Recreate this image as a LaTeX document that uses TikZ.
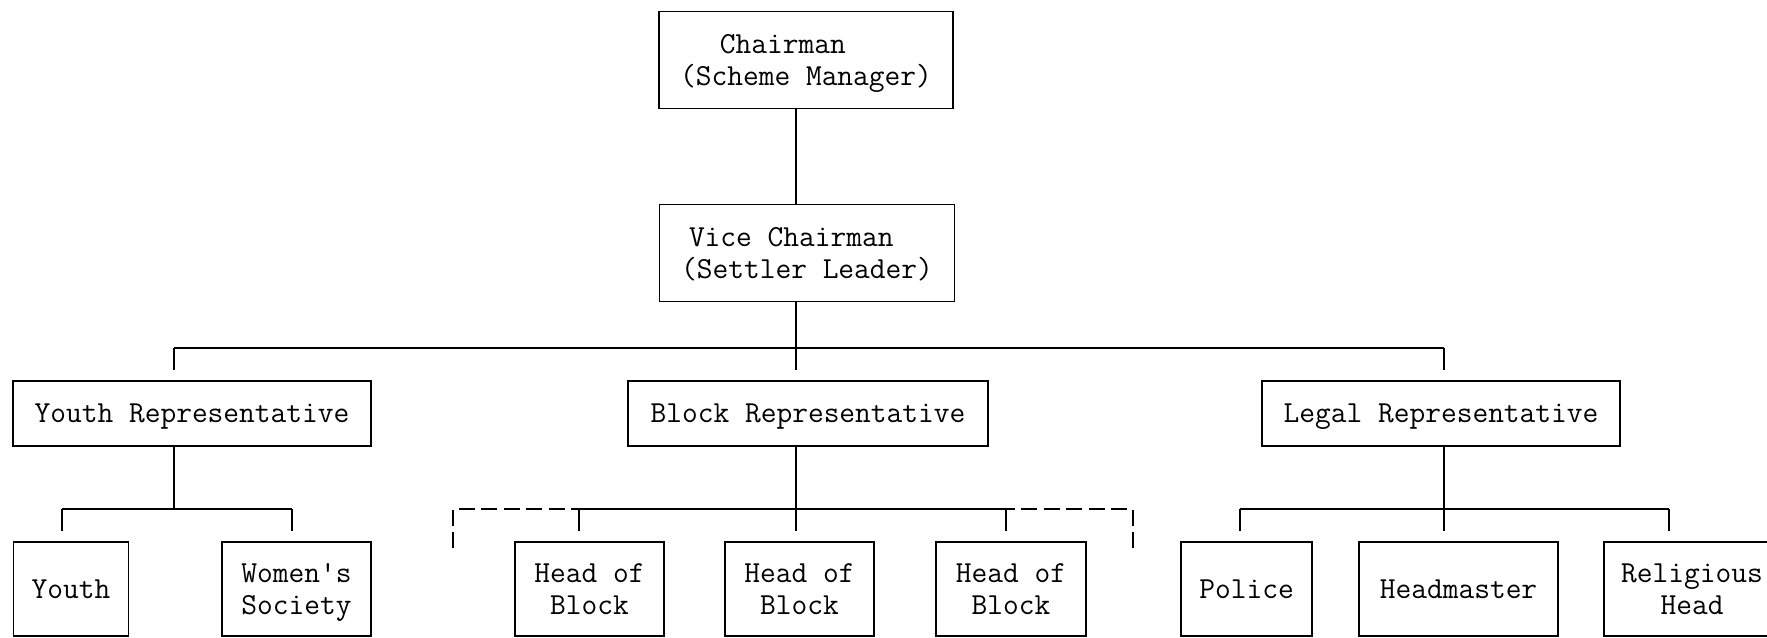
\documentclass[tikz,border=0pt]{standalone}
\usepackage{fontspec}
\usepackage{tikz}
\usetikzlibrary{
    calc,
    positioning
}
\tikzset{
    unit/.style={draw, line width=1pt, inner sep=0pt, align=center, text depth=0pt,
        font=\ttfamily\fontsize{17.4}{18.5}\selectfont},
    link/.style={shorten >=0.2cm},
    open/.style={dash pattern=on 0.32cm off 0.13cm}
}

\begin{document}
\begin{tikzpicture}[x=0.02cm, y=-0.02cm, line width=1pt]
    \useasboundingbox (0, 0) rectangle (1767, 638);

    \node[unit, align=left, minimum width=5.88cm, minimum height=1.94cm] (chair) at (806, 60) {\hspace*{1.3em}Chairman\\(Scheme Manager)};
    \node[unit, align=left, minimum width=5.9cm, minimum height=1.94cm] (vice) at (807, 253) {\hspace*{0.26em}Vice Chairman\\(Settler Leader)};

    \node[unit, minimum width=7.16cm, minimum height=1.3cm] (yrep) at (192, 413.5) {Youth Representative};
    \node[unit, minimum width=7.2cm, minimum height=1.3cm] (brep) at (808, 413.5) {Block Representative};
    \node[unit, minimum width=7.16cm, minimum height=1.3cm] (lrep) at (1441, 413.5) {Legal Representative};

    \node[unit, minimum width=2.3cm, minimum height=1.88cm] (youth) at (71, 589) {Youth};
    \node[unit, minimum width=2.98cm, minimum height=1.88cm] (women) at (296.5, 589) {Women\textquotesingle s\\Society};
    \node[unit, minimum width=2.98cm, minimum height=1.88cm] (hob1) at (589.5, 589) {Head of\\Block};
    \node[unit, minimum width=2.98cm, minimum height=1.88cm] (hob2) at (799.5, 589) {Head of\\Block};
    \node[unit, minimum width=3.0cm, minimum height=1.88cm] (hob3) at (1011, 589) {Head of\\Block};
    \node[unit, minimum width=2.62cm, minimum height=1.88cm] (police) at (1246.5, 589) {Police};
    \node[unit, minimum width=3.98cm, minimum height=1.88cm] (headm) at (1458.5, 589) {Headmaster};
    \node[unit, minimum width=3.52cm, minimum height=1.88cm] (relig) at (1692, 589) {Religious\\Head};

    \coordinate (spine) at (796, 348);
    \coordinate (yd) at (174, 348);
    \coordinate (ld) at (1444, 348);
    \coordinate (ysubl) at (62, 509);
    \coordinate (ysubr) at (292, 509);
    \coordinate (bsubl) at (579, 509);
    \coordinate (bsubr) at (1006, 509);
    \coordinate (lsubl) at (1240, 509);
    \coordinate (lsubr) at (1669, 509);
    \coordinate (dashl) at (453, 548);
    \coordinate (dashr) at (1133, 548);

    \draw (chair.south -| spine) -- (vice.north -| spine);
    \draw[link] (vice.south -| spine) -- (brep.north -| spine);
    \draw (yd) -- (ld);
    \draw[link] (yd) -- (yrep.north -| yd);
    \draw[link] (ld) -- (lrep.north -| ld);

    \draw (yrep.south -| yd) -- (yd |- ysubl);
    \draw (ysubl) -- (ysubr);
    \draw[link] (ysubl) -- (youth.north -| ysubl);
    \draw[link] (ysubr) -- (women.north -| ysubr);

    \draw[link] (brep.south -| spine) -- (hob2.north -| spine);
    \draw (bsubl) -- (bsubr);
    \draw[link] (bsubl) -- (hob1.north -| bsubl);
    \draw[link] (bsubr) -- (hob3.north -| bsubr);
    \draw[open] (dashl) |- (bsubl);
    \draw[open] (dashr) |- (bsubr);

    \draw[link] (lrep.south -| ld) -- (headm.north -| ld);
    \draw (lsubl) -- (lsubr);
    \draw[link] (lsubl) -- (police.north -| lsubl);
    \draw[link] (lsubr) -- (relig.north -| lsubr);
\end{tikzpicture}
\end{document}
